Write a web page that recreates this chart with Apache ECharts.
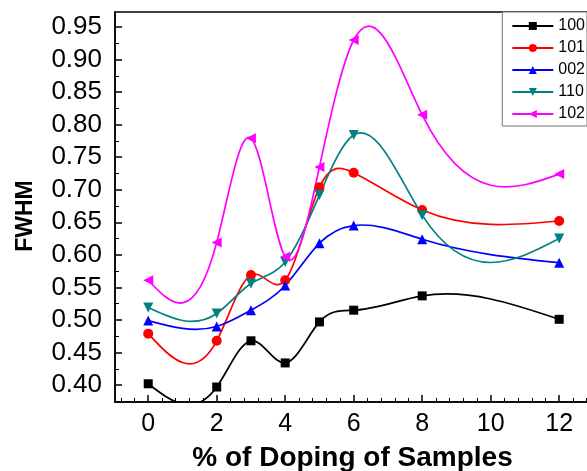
<!DOCTYPE html>
<html>
<head>
<meta charset="utf-8">
<script src="https://cdn.jsdelivr.net/npm/echarts@6/dist/echarts.min.js"></script>
<style>
  html, body { margin: 0; padding: 0; background: #fff; }
  #chart { width: 587px; height: 471px; }
</style>
</head>
<body>
<div id="chart"></div>
<script>
// % of doping (x positions of the measured samples)
const doping = [0, 2, 3, 4, 5, 6, 8, 12];

// FWHM per reflection
const fwhm100 = [0.402, 0.397, 0.468, 0.434, 0.497, 0.515, 0.537, 0.501];
const fwhm101 = [0.479, 0.468, 0.569, 0.561, 0.704, 0.726, 0.669, 0.652];
const fwhm002 = [0.499, 0.490, 0.515, 0.553, 0.618, 0.645, 0.624, 0.588];
const fwhm110 = [0.519, 0.510, 0.556, 0.589, 0.692, 0.784, 0.661, 0.625];
const fwhm102 = [0.561, 0.619, 0.779, 0.597, 0.735, 0.930, 0.815, 0.724];

const xTicks = [0, 2, 4, 6, 8, 10, 12];
const yTicks = [0.40, 0.45, 0.50, 0.55, 0.60, 0.65, 0.70, 0.75, 0.80, 0.85, 0.90, 0.95];

const X_MIN = -0.97, X_MAX = 12.9;
const Y_MIN = 0.374, Y_MAX = 0.973;

// minor ticks: every 0.4 on x, every 0.025 on y
const xMinor = [];
for (let i = -2; i <= 32; i++) { if (i % 5 !== 0) xMinor.push(+(i * 0.4).toFixed(2)); }
const yMinor = [];
for (let i = 15; i <= 38; i++) { if (i % 2 !== 0) yMinor.push(+(i * 0.025).toFixed(3)); }

// node slopes of a natural cubic spline (used as bezier tangents, like Origin's spline connect)
function splineSlopes(xs, ys) {
  const n = xs.length;
  const h = [], d = [];
  for (let i = 0; i < n - 1; i++) { h.push(xs[i + 1] - xs[i]); d.push((ys[i + 1] - ys[i]) / h[i]); }
  const a = [], b = [], c = [], r = [];
  for (let i = 1; i < n - 1; i++) {
    a.push(h[i - 1]); b.push(2 * (h[i - 1] + h[i])); c.push(h[i]); r.push(6 * (d[i] - d[i - 1]));
  }
  const m = b.length;
  for (let i = 1; i < m; i++) {
    const w = a[i] / b[i - 1];
    b[i] -= w * c[i - 1];
    r[i] -= w * r[i - 1];
  }
  const sol = new Array(m);
  sol[m - 1] = r[m - 1] / b[m - 1];
  for (let i = m - 2; i >= 0; i--) sol[i] = (r[i] - c[i] * sol[i + 1]) / b[i];
  const M = [0].concat(sol, [0]);
  const s = [];
  for (let i = 0; i < n - 1; i++) s.push(d[i] - h[i] * (2 * M[i] + M[i + 1]) / 6);
  s.push(d[n - 2] + h[n - 2] * (M[n - 2] + 2 * M[n - 1]) / 6);
  return s;
}

const chart = echarts.init(document.getElementById('chart'));

const curve = (name, ys, color) => {
  const s = splineSlopes(doping, ys);
  return {
    name: name + ' spline',
    type: 'custom',
    xAxisIndex: 0,
    yAxisIndex: 0,
    encode: { x: 0, y: 1 },
    data: doping.map((x, i) => [x, ys[i]]),
    silent: true,
    animation: false,
    renderItem: (params, api) => {
      const i = params.dataIndex;
      if (i >= doping.length - 1) return;
      const x0 = doping[i], x1 = doping[i + 1], h = x1 - x0;
      const p0 = api.coord([x0, ys[i]]);
      const p1 = api.coord([x1, ys[i + 1]]);
      const c0 = api.coord([x0 + h / 3, ys[i] + h * s[i] / 3]);
      const c1 = api.coord([x1 - h / 3, ys[i + 1] - h * s[i + 1] / 3]);
      const cs = params.coordSys;
      return {
        type: 'bezierCurve',
        shape: { x1: p0[0], y1: p0[1], x2: p1[0], y2: p1[1], cpx1: c0[0], cpy1: c0[1], cpx2: c1[0], cpy2: c1[1] },
        style: { stroke: color, lineWidth: 1.7, fill: null },
        clipPath: { type: 'rect', shape: { x: cs.x, y: cs.y, width: cs.width, height: cs.height } }
      };
    }
  };
};

const marks = (name, ys, color, symbol, rotate, size) => ({
  name: name,
  type: 'line',
  xAxisIndex: 0,
  yAxisIndex: 0,
  data: doping.map((x, i) => [x, ys[i]]),
  symbol: symbol,
  symbolSize: size,
  symbolRotate: rotate,
  showAllSymbol: true,
  lineStyle: { color: color, width: 1.7, opacity: 0 },
  itemStyle: { color: color },
  emphasis: { disabled: true },
  animation: false
});

const font = 'Liberation Sans, Arial, sans-serif';

const option = {
  animation: false,
  grid: {
    left: 115, top: 12, right: -3, bottom: 69,
    outerBoundsMode: 'none',
    show: true, borderColor: '#000', borderWidth: 1.5, backgroundColor: 'transparent'
  },
  legend: {
    orient: 'vertical',
    right: 0, top: 12,
    backgroundColor: '#fff',
    borderColor: '#777', borderWidth: 1,
    padding: [6, 2, 4, 9],
    itemGap: 6,
    itemWidth: 41, itemHeight: 10,
    lineStyle: { opacity: 1 },
    textStyle: { fontFamily: font, fontSize: 16, color: '#000' },
    data: ['100', '101', '002', '110', '102']
  },
  xAxis: [{
    type: 'value', min: X_MIN, max: X_MAX,
    name: '% of Doping of Samples', nameLocation: 'middle', nameGap: 42,
    nameTextStyle: { fontFamily: font, fontSize: 28, fontWeight: 'bold', color: '#000' },
    axisLine: { onZero: false, lineStyle: { color: '#000', width: 1.5 } },
    axisTick: { inside: true, length: 7, customValues: xTicks, lineStyle: { color: '#000', width: 1.5 } },
    axisLabel: { customValues: xTicks, fontFamily: font, fontSize: 25, color: '#000', margin: 10 },
    splitLine: { show: false }
  }, {
    type: 'value', min: X_MIN, max: X_MAX, position: 'bottom',
    axisLine: { show: false, onZero: false },
    axisTick: { inside: true, length: 4, customValues: xMinor, lineStyle: { color: '#000', width: 1 } },
    axisLabel: { show: false },
    splitLine: { show: false }
  }],
  yAxis: [{
    type: 'value', min: Y_MIN, max: Y_MAX,
    name: 'FWHM', nameLocation: 'middle', nameGap: 78, nameRotate: 90,
    nameTextStyle: { fontFamily: font, fontSize: 23, fontWeight: 'bold', color: '#000', padding: [0, 18, 0, 0] },
    axisLine: { onZero: false, lineStyle: { color: '#000', width: 1.5 } },
    axisTick: { inside: true, length: 7, customValues: yTicks, lineStyle: { color: '#000', width: 1.5 } },
    axisLabel: {
      customValues: yTicks, fontFamily: font, fontSize: 26, color: '#000', margin: 13,
      formatter: v => v.toFixed(2)
    },
    splitLine: { show: false }
  }, {
    type: 'value', min: Y_MIN, max: Y_MAX, position: 'left',
    axisLine: { show: false, onZero: false },
    axisTick: { inside: true, length: 4, customValues: yMinor, lineStyle: { color: '#000', width: 1 } },
    axisLabel: { show: false },
    splitLine: { show: false }
  }],
  series: [
    curve('100', fwhm100, '#000000'),
    curve('101', fwhm101, '#ff0000'),
    curve('002', fwhm002, '#0000ff'),
    curve('110', fwhm110, '#008080'),
    curve('102', fwhm102, '#ff00ff'),
    marks('100', fwhm100, '#000000', 'rect', 0, 9),
    marks('101', fwhm101, '#ff0000', 'circle', 0, 10),
    marks('002', fwhm002, '#0000ff', 'triangle', 0, 10),
    marks('110', fwhm110, '#008080', 'triangle', 180, 10),
    marks('102', fwhm102, '#ff00ff', 'triangle', 90, 10)
  ]
};

chart.setOption(option);
</script>
</body>
</html>
